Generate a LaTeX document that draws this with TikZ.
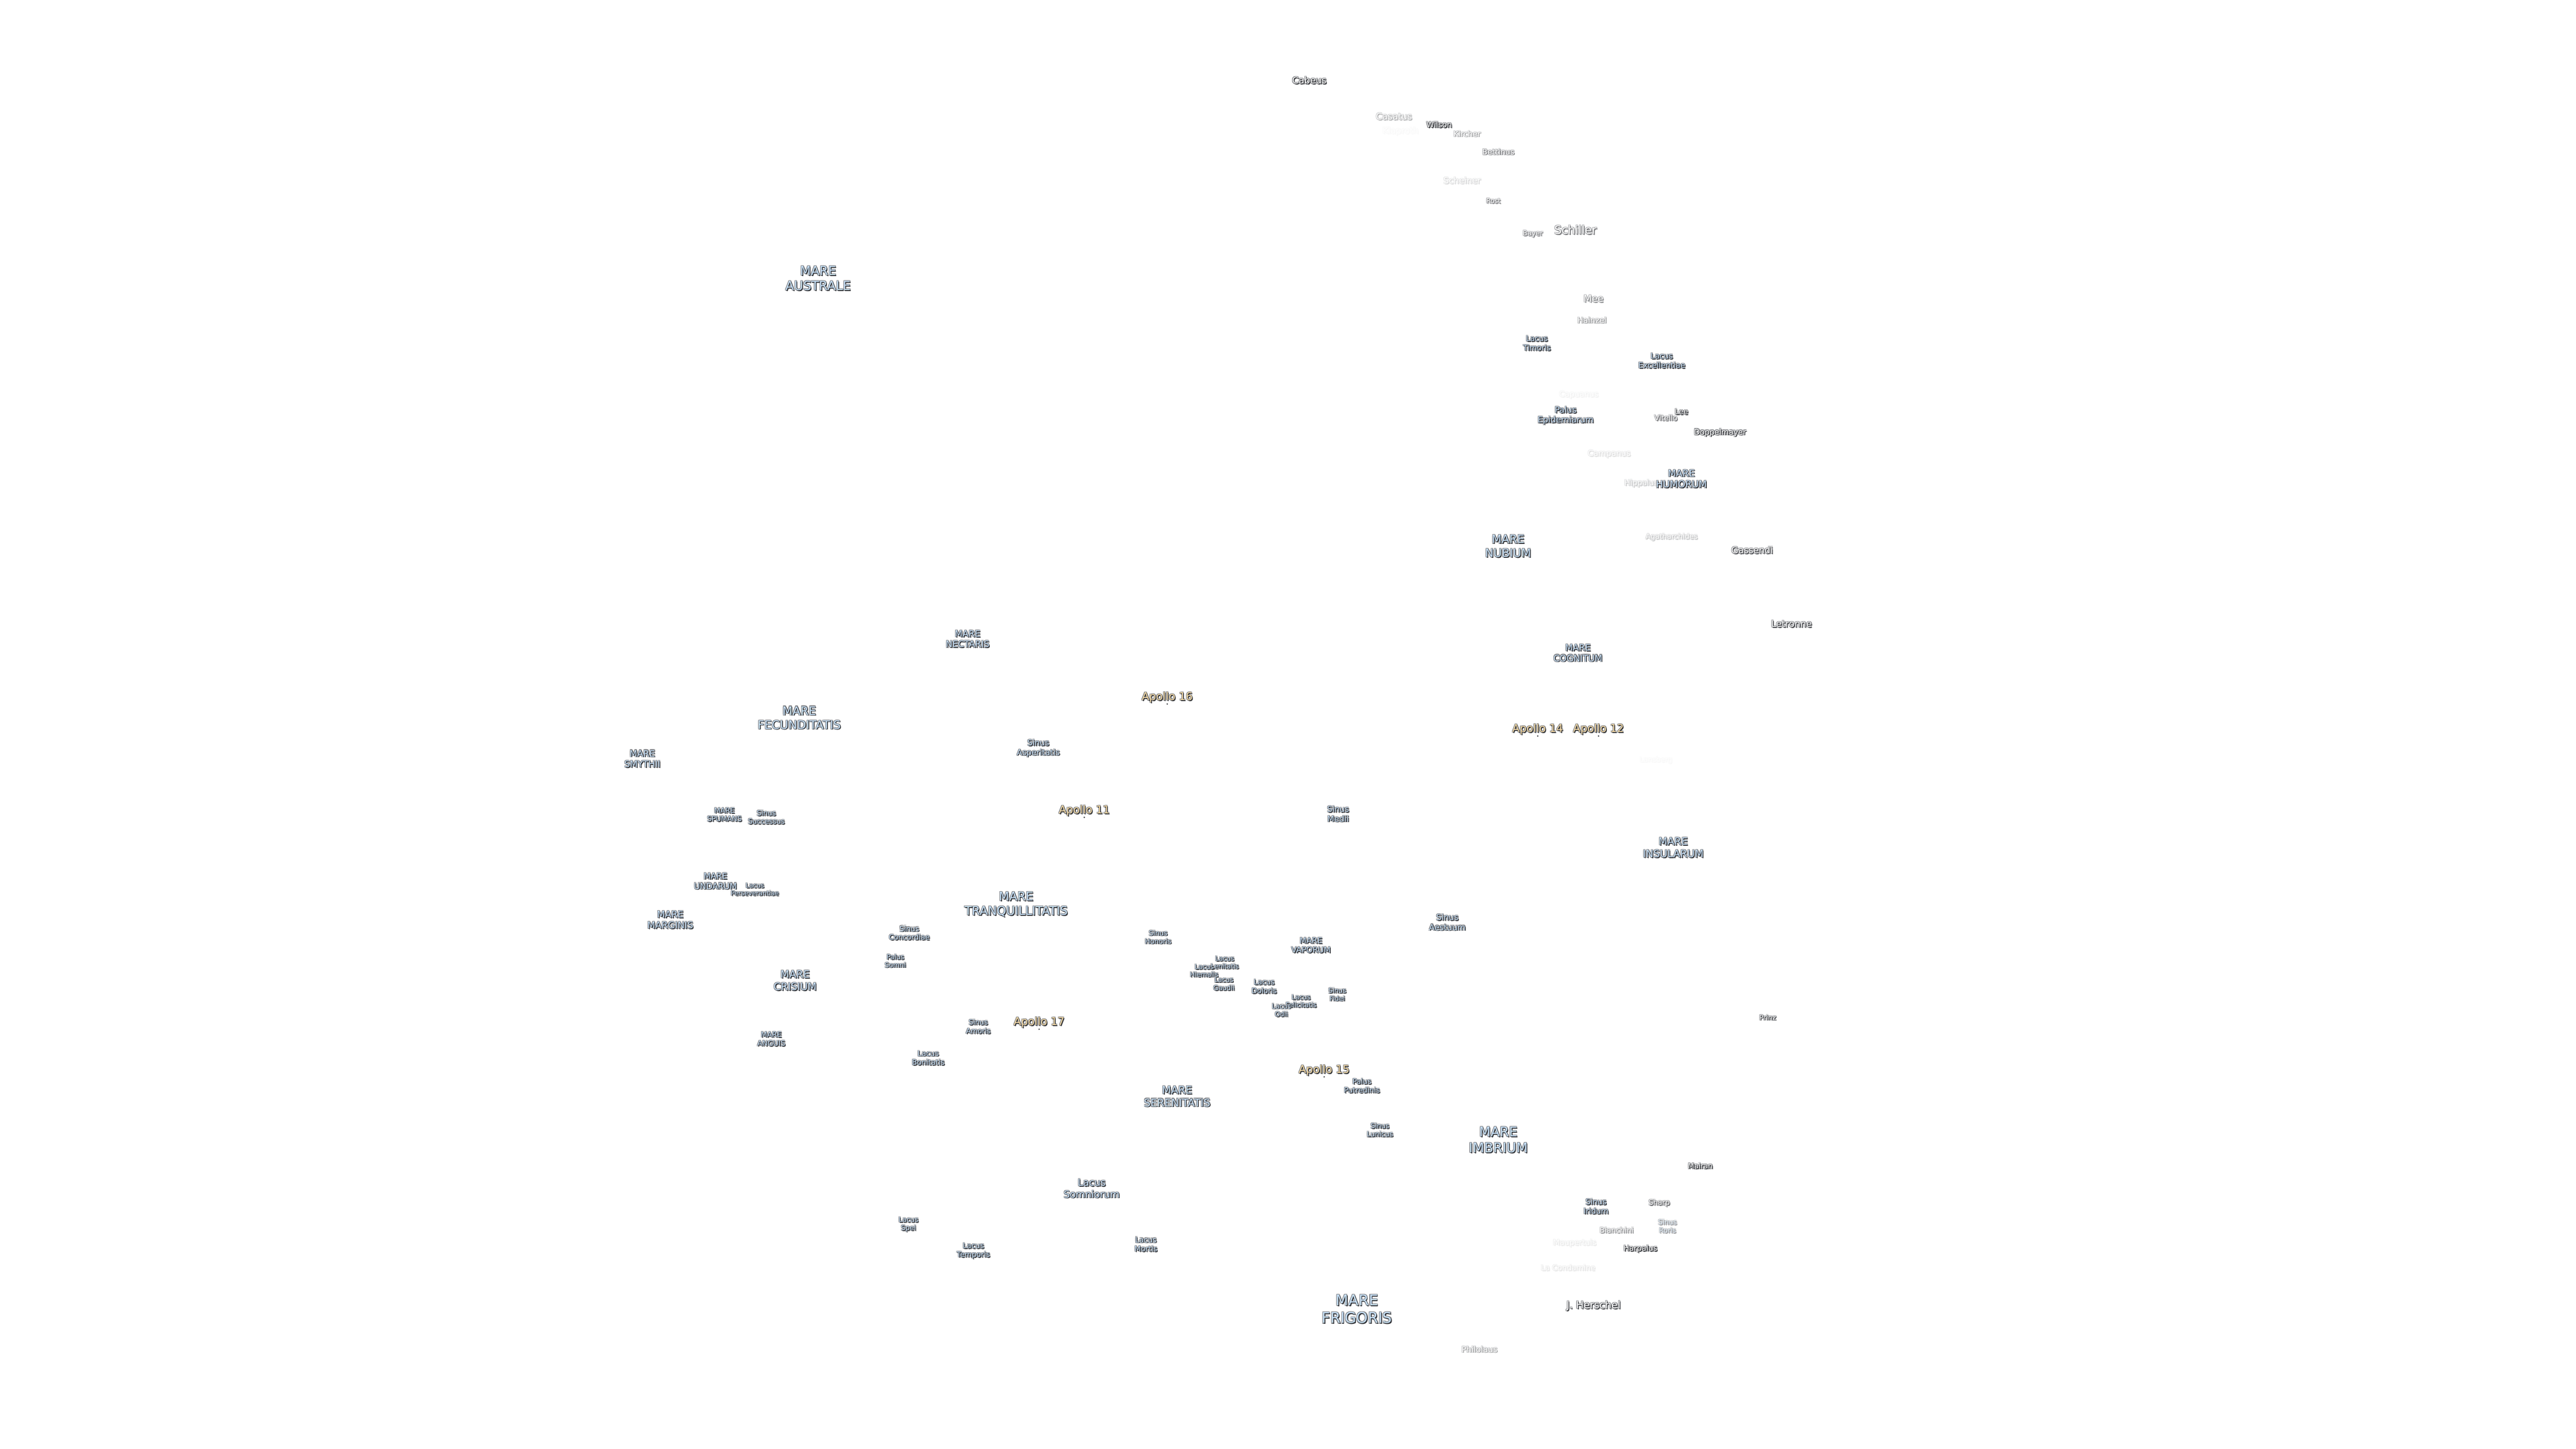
\documentclass[tikz,border=0pt]{standalone}
\usepackage{fontspec}
\setmainfont{DejaVu Sans}
\definecolor{marefill}{HTML}{C8E1F8}
\definecolor{apollofill}{HTML}{F7DCA8}
\definecolor{craterfill}{HTML}{FFFFFF}
\definecolor{shade}{HTML}{34363A}
\definecolor{halo}{HTML}{808286}
\tikzset{
  lbl/.style={inner sep=0pt,outer sep=0pt,align=center},
  sitedot/.style={circle,inner sep=0pt,minimum size=.9pt,fill=shade}
}
% name, x, y, size, fill colour, strength (percent), text
\newcommand\lblnode[7]{%
  \pgfmathsetmacro\lsz{#4*1.2}%
  \pgfmathsetmacro\ypos{#3+.5}%
  \tikzset{lblf/.style={lbl,font=\fontsize{#4}{\lsz}\selectfont}}%
  \node[lblf,text=halo!#6!white] at ({#2-.34},{\ypos-.34}) {#7};
  \node[lblf,text=halo!#6!white] at ({#2+.34},{\ypos-.34}) {#7};
  \node[lblf,text=halo!#6!white] at ({#2-.34},{\ypos+.34}) {#7};
  \node[lblf,text=shade!#6!white] at ({#2+.55},{\ypos+.55}) {#7};
  \node[lblf,text=shade!#6!white] at ({#2+.3},{\ypos+.3}) {#7};
  \node[lblf,text=#5!#6!white] (#1) at (#2,\ypos) {#7};
}
\newcommand\apollo[4]{%
  \lblnode{#1}{#2}{#3}{6.6}{apollofill}{100}{#4}
  \node[sitedot] (#1dot) at (#2,{#3+4.6}) {};
}
\newcommand\mare[5]{\lblnode{#1}{#2}{#3}{#4}{marefill}{100}{#5}}
\newcommand\crater[6]{%
  \pgfmathtruncatemacro\crst{min(100,#5*1.25)}%
  \pgfmathsetmacro\cry{#3-.6}%
  \lblnode{#1}{#2}{\cry}{#4}{craterfill}{\crst}{#6}}
\begin{document}
\begin{tikzpicture}[x=1pt,y=-1pt]
\useasboundingbox (0,0) rectangle (1568,882);
\fill[white] (0,0) rectangle (1568,882);
% craters
\crater{cabeus}{797}{49}{5.6}{85}{Cabeus}
\crater{casatus}{848.5}{71}{5.5}{30}{Casatus}
\crater{klaproth}{852.5}{80}{5.2}{3}{Klaproth}
\crater{wilson}{876}{76}{4.7}{100}{Wilson}
\crater{kircher}{893}{81.5}{4.7}{35}{Kircher}
\crater{bettinus}{912}{92.5}{4.7}{50}{Bettinus}
\crater{scheiner}{890}{110}{5.2}{15}{Scheiner}
\crater{rost}{909}{122.5}{4}{50}{Rost}
\crater{bayer}{933}{142.5}{4.2}{50}{Bayer}
\crater{schiller}{959}{140}{7}{55}{Schiller}
\crater{mee}{970}{182}{5.8}{45}{Mee}
\crater{hainzel}{969}{195}{4.8}{40}{Hainzel}
\crater{capuanus}{961}{240.5}{4.8}{5}{Capuanus}
\crater{campanus}{979.5}{276.5}{4.9}{12}{Campanus}
\crater{hippalus}{999}{294.5}{4.7}{20}{Hippalus}
\crater{agatharchides}{1017.5}{327}{4.4}{22}{Agatharchides}
\crater{gassendi}{1066.5}{335}{5.5}{70}{Gassendi}
\crater{letronne}{1090.5}{380}{5.6}{75}{Letronne}
\crater{doppelmayer}{1047}{263.5}{4.7}{85}{Doppelmayer}
\crater{lee}{1023.5}{250.7}{4.6}{80}{Lee}
\crater{vitello}{1014}{254.5}{4.5}{55}{Vitello}
\crater{lansberg}{1008}{463}{4.3}{3}{Lansberg}
\crater{prinz}{1076}{619.5}{4.2}{75}{Prinz}
\crater{mairan}{1035}{710}{4.4}{90}{Mairan}
\crater{sharp}{1010}{732.5}{4.4}{60}{Sharp}
\crater{bianchini}{984}{749}{4.5}{40}{Bianchini}
\crater{harpalus}{998.5}{760.5}{4.6}{100}{Harpalus}
\crater{maupertuis}{958.5}{757}{4.7}{8}{Maupertuis}
\crater{lacondamine}{954.5}{772}{4.6}{10}{La Condamine}
\crater{jherschel}{970}{795}{6.2}{75}{J. Herschel}
\crater{philolaus}{900.5}{821.5}{4.9}{35}{Philolaus}
% maria, lakes, bays
\mare{australe}{498}{169}{7.65}{MARE\\AUSTRALE}
\mare{nectaris}{589}{388.5}{5.4}{MARE\\NECTARIS}
\mare{fecunditatis}{486.5}{436.5}{7.1}{MARE\\FECUNDITATIS}
\mare{smythii}{391}{461.5}{5.4}{MARE\\SMYTHII}
\mare{spumans}{441}{495.5}{4.3}{MARE\\SPUMANS}
\mare{successus}{466.5}{497}{4.3}{Sinus\\Successus}
\mare{undarum}{435.5}{536}{5}{MARE\\UNDARUM}
\mare{perseverantiae}{459.5}{541}{3.9}{Lacus\\Perseverantiae}
\mare{marginis}{408}{559.5}{5.6}{MARE\\MARGINIS}
\mare{concordiae}{553.5}{567.5}{4.4}{Sinus\\Concordiae}
\mare{somni}{545}{584.5}{4.1}{Palus\\Somni}
\mare{crisium}{484}{596.5}{6.2}{MARE\\CRISIUM}
\mare{anguis}{469.5}{632}{4.4}{MARE\\ANGUIS}
\mare{amoris}{595.5}{624.5}{4.3}{Sinus\\Amoris}
\mare{bonitatis}{565}{643.5}{4.5}{Lacus\\Bonitatis}
\mare{tranquillitatis}{618.5}{550}{7.3}{MARE\\TRANQUILLITATIS}
\mare{asperitatis}{632}{455}{4.9}{Sinus\\Asperitatis}
\mare{medii}{814.5}{495}{4.9}{Sinus\\Medii}
\mare{aestuum}{881}{561}{5}{Sinus\\Aestuum}
\mare{honoris}{705}{570}{4.2}{Sinus\\Honoris}
\mare{vaporum}{798}{575}{4.8}{MARE\\VAPORUM}
\mare{lenitatis}{745.5}{585.5}{4}{Lacus\\Lenitatis}
\mare{hiemalis}{733}{590.5}{4}{Lacus\\Hiemalis}
\mare{gaudii}{745}{598.5}{4}{Lacus\\Gaudii}
\mare{doloris}{769.5}{600}{4.4}{Lacus\\Doloris}
\mare{fidei}{814}{605}{4}{Sinus\\Fidei}
\mare{felicitatis}{792}{609}{4}{Lacus\\Felicitatis}
\mare{odii}{780}{614.5}{4}{Lacus\\Odii}
\mare{putredinis}{829}{660.5}{4.4}{Palus\\Putredinis}
\mare{serenitatis}{716.5}{667}{6.4}{MARE\\SERENITATIS}
\mare{lunicus}{840}{687.5}{4.2}{Sinus\\Lunicus}
\mare{imbrium}{912}{693.5}{8.1}{MARE\\IMBRIUM}
\mare{somniorum}{664.5}{723}{5.9}{Lacus\\Somniorum}
\mare{spei}{553}{745}{4.2}{Lacus\\Spei}
\mare{temporis}{592.5}{761}{4.5}{Lacus\\Temporis}
\mare{mortis}{697.5}{757}{4.5}{Lacus\\Mortis}
\mare{frigoris}{826}{796.5}{9}{MARE\\FRIGORIS}
\mare{nubium}{918}{332}{6.9}{MARE\\NUBIUM}
\mare{cognitum}{960.5}{397}{5.4}{MARE\\COGNITUM}
\mare{humorum}{1023.5}{291}{5.7}{MARE\\HUMORUM}
\mare{insularum}{1018.5}{515.5}{6.2}{MARE\\INSULARUM}
\mare{excellentiae}{1011.5}{219}{4.7}{Lacus\\Excellentiae}
\mare{timoris}{935.5}{208.5}{4.6}{Lacus\\Timoris}
\mare{epidemiarum}{953}{252.5}{5.1}{Palus\\Epidemiarum}
\mare{iridum}{971.5}{734}{4.7}{Sinus\\Iridum}
\lblnode{roris}{1015}{746}{4.2}{marefill}{50}{Sinus\\Roris}
% Apollo sites
\apollo{apsixteen}{710.5}{424}{Apollo 16}
\apollo{apeleven}{660}{493}{Apollo 11}
\apollo{apseventeen}{632.5}{622}{Apollo 17}
\apollo{apfifteen}{806}{651}{Apollo 15}
\apollo{apfourteen}{936}{443.5}{Apollo 14}
\apollo{aptwelve}{973}{443.5}{Apollo 12}
\end{tikzpicture}
\end{document}
